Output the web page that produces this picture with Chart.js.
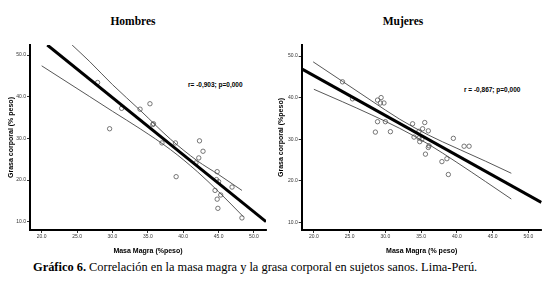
<!DOCTYPE html>
<html><head><meta charset="utf-8">
<script src="https://cdn.jsdelivr.net/npm/chart.js@4.4.1/dist/chart.umd.min.js"></script>
<style>
body{margin:0;background:#fff;width:557px;height:282px;overflow:hidden;position:relative;font-family:"Liberation Sans",Arial,sans-serif}
canvas{position:absolute}
.t{position:absolute;font-family:"Liberation Serif","Times New Roman",serif;font-weight:bold;font-size:11.5px;transform:translate(-50%,-50%);white-space:nowrap;color:#000}
.s{position:absolute;font-weight:bold;font-size:6.5px;white-space:nowrap;transform:translateY(-50%);color:#000}
.cap{position:absolute;left:33px;top:267px;transform:translateY(-50%);font-family:"Liberation Serif","Times New Roman",serif;font-size:12.4px;white-space:nowrap;color:#000}
</style></head><body>
<div class="t" style="left:133px;top:21px">Hombres</div>
<div class="t" style="left:403px;top:21px">Mujeres</div>
<div class="s" style="left:188px;top:84px">r= -0,903; p=0,000</div>
<div class="s" style="left:464px;top:89px">r = -0,867; p=0,000</div>
<canvas id="c1" width="275" height="225" style="left:0;top:30px;width:275px;height:225px"></canvas>
<canvas id="c2" width="282" height="225" style="left:275px;top:30px;width:282px;height:225px"></canvas>
<div class="cap"><b>Gráfico 6.</b> Correlación en la masa magra y la grasa corporal en sujetos sanos. Lima-Perú.</div>
<script>
const xTicks=[20,25,30,35,40,45,50];
const yTicks=[10,20,30,40,50];

const hombresMasa=[27.9,31.3,33.9,35.3,35.7,35.8,29.6,37.0,38.9,42.3,42.8,42.2,41.8,39.0,44.8,44.7,45.0,44.5,45.3,44.8,44.9,46.9,48.3];
const hombresGrasa=[43.4,37.2,37.0,38.3,33.3,33.5,32.3,28.9,28.9,29.4,26.9,25.3,24.1,20.8,22.0,20.1,19.6,17.5,16.4,15.4,13.2,18.3,10.9];
const hombresFitX=[20.8,51.7];
const hombresFitY=[52.4,10.0];
const hombresUpperX=[24.3,26.8,30,34,38.2,42,45,48.3];
const hombresUpperY=[52.4,48.4,42.9,36.6,29.8,24.6,21.3,17.5];
const hombresLowerX=[20,26.8,30,34,38.2,42,45,48.5];
const hombresLowerY=[47.4,40.0,36.5,32.2,27.3,22.0,17.2,11.2];

const mujeresMasa=[24.0,25.4,28.9,29.4,29.3,29.8,28.9,30.0,28.6,30.7,33.8,35.5,35.2,34.7,36.0,34.0,34.7,35.1,34.8,36.1,36.0,35.6,39.5,41.0,41.7,38.6,37.9,38.8];
const mujeresGrasa=[43.8,39.7,39.4,40.0,38.7,38.7,34.2,34.2,31.7,31.8,33.7,34.0,32.5,31.9,32.0,30.5,30.3,30.0,29.4,28.4,28.0,26.4,30.2,28.3,28.3,25.3,24.6,21.5];
const mujeresFitX=[18.3,51.8];
const mujeresFitY=[46.9,14.8];
const mujeresUpperX=[19.9,24,28,32,36,40,44,47.6];
const mujeresUpperY=[48.6,43.9,39.3,34.8,31.0,27.8,24.7,21.8];
const mujeresLowerX=[20,24,28,32,36,40,44,47.6];
const mujeresLowerY=[42.0,39.0,35.9,32.6,28.8,24.4,19.8,15.6];

const pts=(xs,ys)=>xs.map((x,i)=>({x:x,y:ys[i]}));

function makeChart(id,cfg){
  const tickFont={family:"'Liberation Sans', Arial, sans-serif",size:5};
  const titleFont={family:"'Liberation Sans', Arial, sans-serif",size:7,weight:'bold'};
  new Chart(document.getElementById(id),{
    type:'scatter',
    data:{datasets:[
      {data:pts(cfg.fitX,cfg.fitY),showLine:true,borderColor:'#000',borderWidth:3,pointRadius:0,order:1},
      {data:pts(cfg.upX,cfg.upY),showLine:true,borderColor:'#444',borderWidth:0.9,pointRadius:0,cubicInterpolationMode:'monotone',order:2},
      {data:pts(cfg.loX,cfg.loY),showLine:true,borderColor:'#444',borderWidth:0.9,pointRadius:0,cubicInterpolationMode:'monotone',order:3},
      {data:pts(cfg.mx,cfg.my),showLine:false,pointRadius:2.2,pointBorderWidth:0.8,pointBorderColor:'#555',pointBackgroundColor:'rgba(255,255,255,0)',order:4}
    ]},
    options:{
      responsive:false,animation:false,devicePixelRatio:1,
      layout:{padding:{top:15,right:cfg.padRight,left:0,bottom:0}},
      plugins:{legend:{display:false},tooltip:{enabled:false}},
      scales:{
        x:{type:'linear',min:cfg.xmin,max:cfg.xmax,
          afterBuildTicks:s=>{s.ticks=xTicks.map(v=>({value:v}));},
          afterFit:s=>{s.height=25;},
          grid:{drawOnChartArea:false,drawTicks:true,tickLength:3,color:'#000',lineWidth:0.8},
          border:{display:true,color:'#000',width:2},
          ticks:{font:tickFont,color:'#333',padding:1,maxRotation:0,autoSkip:false,callback:v=>v.toFixed(1)},
          title:{display:true,text:cfg.xTitle,font:titleFont,color:'#000',padding:{top:1,bottom:0}}
        },
        y:{type:'linear',min:cfg.ymin,max:cfg.ymax,
          afterBuildTicks:s=>{s.ticks=yTicks.map(v=>({value:v}));},
          afterFit:s=>{s.width=cfg.yWidth;},
          grid:{drawOnChartArea:false,drawTicks:true,tickLength:3,color:'#000',lineWidth:0.8},
          border:{display:true,color:'#000',width:2},
          ticks:{font:tickFont,color:'#333',padding:1,autoSkip:false,callback:v=>v.toFixed(1)},
          title:{display:true,text:cfg.yTitle,font:titleFont,color:'#000',padding:{top:cfg.yTitlePad,bottom:2}}
        }
      }
    }
  });
}

makeChart('c1',{fitX:hombresFitX,fitY:hombresFitY,upX:hombresUpperX,upY:hombresUpperY,loX:hombresLowerX,loY:hombresLowerY,
  mx:hombresMasa,my:hombresGrasa,xmin:18.35,xmax:51.7,ymin:8.0,ymax:52.4,padRight:9,yWidth:30,yTitlePad:7,
  xTitle:'Masa Magra (%peso)',yTitle:'Grasa corporal (% peso)'});
makeChart('c2',{fitX:mujeresFitX,fitY:mujeresFitY,upX:mujeresUpperX,upY:mujeresUpperY,loX:mujeresLowerX,loY:mujeresLowerY,
  mx:mujeresMasa,my:mujeresGrasa,xmin:18.3,xmax:51.85,ymin:8.15,ymax:52.65,padRight:15.3,yWidth:26.7,yTitlePad:2,
  xTitle:'Masa Magra (% peso)',yTitle:'Grasa corporal (%peso)'});
</script>
</body></html>
